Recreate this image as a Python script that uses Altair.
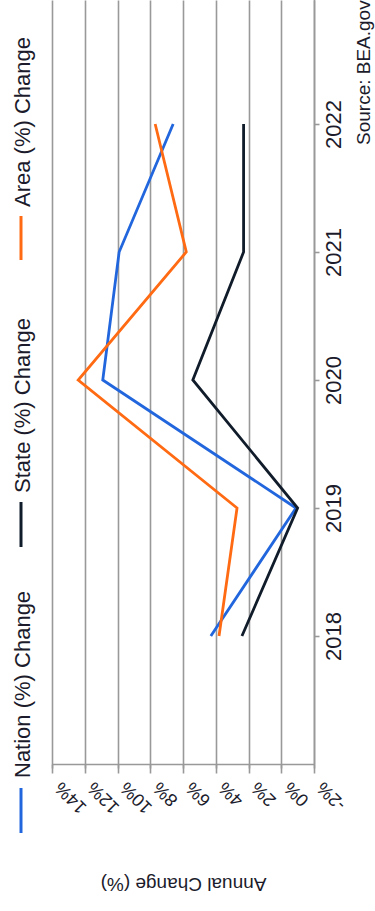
import altair as alt
import pandas as pd

# Annual percentage change by year
YEARS = [2018, 2019, 2020, 2021, 2022]
NATION = [4.3, -0.9, 10.9, 9.9, 6.6]
STATE = [2.4, -1.0, 5.4, 2.3, 2.3]
AREA = [3.8, 2.7, 12.4, 5.8, 7.7]

SERIES = ["Nation (%) Change", "State (%) Change", "Area (%) Change"]
COLORS = ["#2266dd", "#111c2b", "#ff6a12"]
PCT_TICKS = [-2, 0, 2, 4, 6, 8, 10, 12, 14]
SOURCE = "Source: BEA.gov"

rows = []
for name, vals in zip(SERIES, [NATION, STATE, AREA]):
    for yr, v in zip(YEARS, vals):
        rows.append({"series": name, "year": yr, "change": v})
df = pd.DataFrame(rows)

FONT = "Liberation Sans"
TEXT = "#1b1b2b"
GRID = "#999999"
W, H = 262, 764

color_scale = alt.Scale(domain=SERIES, range=COLORS)

x_enc = alt.X(
    "change:Q",
    scale=alt.Scale(domain=[-2, 14], reverse=True, nice=False, zero=False),
    axis=alt.Axis(
        values=PCT_TICKS, labelExpr="datum.value + '%'",
        labelAngle=225, labelAlign="right", labelBaseline="middle",
        labelPadding=11, labelOffset=6, labelFontSize=18, labelColor=TEXT,
        labelOverlap=False, labelFlush=False,
        grid=True, gridColor=GRID, gridWidth=1.6,
        domainColor=GRID, domainWidth=1.6,
        tickColor=GRID, tickWidth=1.6, tickSize=9,
        title="Annual Change (%)", titleAngle=180, titleFontSize=19,
        titleFontWeight="normal", titleColor=TEXT,
        titleX=W / 2, titleY=119, titleAlign="center", titleBaseline="middle",
    ),
)

y_enc = alt.Y(
    "year:Q",
    scale=alt.Scale(domain=[2017, 2023], range=[H, -4], nice=False, zero=False),
    axis=alt.Axis(
        orient="right", values=YEARS, format="d",
        labelAngle=270, labelAlign="center", labelBaseline="top",
        labelPadding=4, labelFontSize=22, labelColor=TEXT,
        grid=False, domainColor=GRID, domainWidth=1.6,
        tickColor=GRID, tickWidth=1.6, tickSize=5, title=None,
    ),
)

color_enc = alt.Color("series:N", scale=color_scale, legend=None)

layers = []
# draw order: Nation underneath, State on top
for name in [SERIES[0], SERIES[2], SERIES[1]]:
    layers.append(
        alt.Chart(df)
        .transform_filter(alt.datum.series == name)
        .mark_line(strokeWidth=2.8)
        .encode(x=x_enc, y=y_enc, color=color_enc, order="year:Q")
    )

# Legend drawn as rotated entries on the left
LEG_SYMBOL = [(788, 833), (502, 547), (216, 260)]
LEG_TEXT_START = [778, 493, 207]
for name, (s0, s1), t0 in zip(SERIES, LEG_SYMBOL, LEG_TEXT_START):
    leg = pd.DataFrame({"series": [name]})
    layers.append(
        alt.Chart(leg).mark_rule(strokeWidth=3).encode(
            x=alt.value(-31), y=alt.value(s0), y2=alt.value(s1), color=color_enc
        )
    )
    layers.append(
        alt.Chart(leg).mark_text(
            angle=270, align="left", baseline="middle",
            fontSize=22, font=FONT, color=TEXT,
        ).encode(x=alt.value(-29), y=alt.value(t0), text="series:N")
    )

src = pd.DataFrame({"label": [SOURCE]})
layers.append(
    alt.Chart(src).mark_text(
        angle=270, align="left", baseline="middle",
        fontSize=19, font=FONT, color=TEXT,
    ).encode(x=alt.value(312), y=alt.value(145), text="label:N")
)

chart = (
    alt.layer(*layers)
    .properties(
        width=W, height=H,
        autosize=alt.AutoSizeParams(type="none"),
        padding={"left": 52, "top": 0, "right": 375 - 52 - W, "bottom": 911 - H},
        background="white",
    )
    .configure_view(stroke=None)
    .configure_axis(labelFont=FONT, titleFont=FONT)
)

chart.save("out.html", embed_options={"renderer": "svg", "actions": False})
